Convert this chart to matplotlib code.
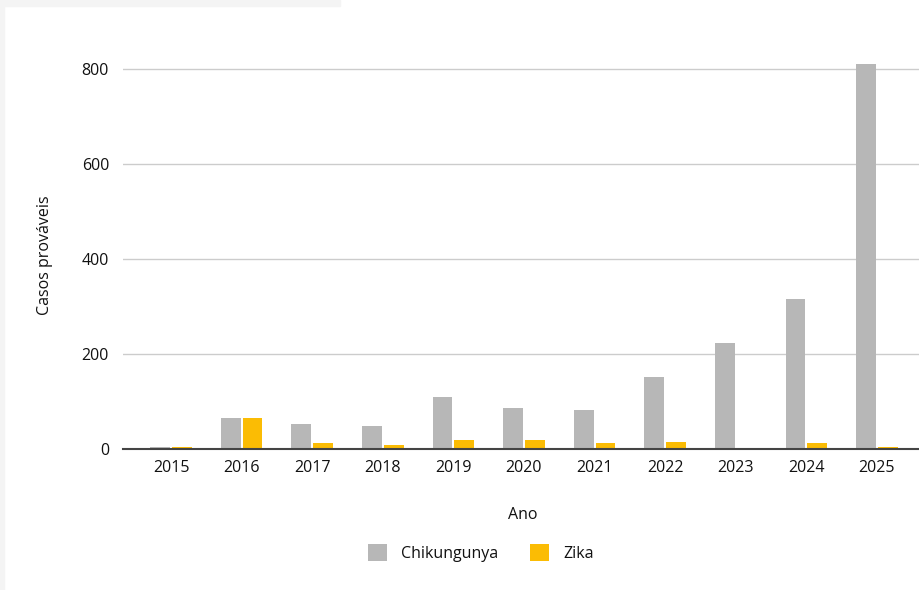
import matplotlib
matplotlib.use("Agg")
import matplotlib.pyplot as plt
import numpy as np

anos = ["2015", "2016", "2017", "2018", "2019", "2020", "2021", "2022", "2023", "2024", "2025"]
chikungunya = [4, 65, 53, 48, 110, 86, 82, 152, 224, 316, 812]
zika = [4, 65, 12, 8, 19, 19, 12, 15, 0, 12, 4]

plt.rcParams["font.family"] = ["Open Sans", "DejaVu Sans"]

fig = plt.figure(figsize=(9.2, 5.9), dpi=100)
ax = fig.add_axes([123 / 920, 1 - 449 / 590, 1 - 123 / 920, (449 - 22) / 590])

x = np.arange(len(anos))
width = 0.28
ax.bar(x - 0.155, chikungunya, width, color="#b7b7b7", label="Chikungunya", zorder=3)
ax.bar(x + 0.155, zika, width, color="#fbbc04", label="Zika", zorder=3)

ax.set_xlim(-0.68, 10.61)
ax.set_ylim(0, 900)
ax.set_yticks([0, 200, 400, 600, 800])
ax.set_xticks(x)
ax.set_xticklabels(anos)
ax.tick_params(axis="both", length=0, labelsize=11.5, colors="#111111")
ax.tick_params(axis="x", pad=8)
ax.tick_params(axis="y", pad=10)
ax.grid(axis="y", color="#cccccc", linewidth=1, zorder=0)

for s in ["top", "right", "left"]:
    ax.spines[s].set_visible(False)
ax.spines["bottom"].set_color("#444444")
ax.spines["bottom"].set_linewidth(1.5)
ax.spines["bottom"].set_zorder(4)

fig.text(523 / 920, 1 - 515 / 590, "Ano", ha="center", va="center", fontsize=11.5, color="#111111")
fig.text(45 / 920, 1 - 255 / 590, "Casos prováveis", ha="center", va="center",
         rotation=90, fontsize=11.5, color="#111111")

fig.legend(loc="center", bbox_to_anchor=(481 / 920, 1 - 553 / 590), ncol=2, frameon=False,
           fontsize=11.5, handlelength=1.2, handleheight=1.2, columnspacing=2.0, handletextpad=0.9,
           labelcolor="#111111")

# faint screenshot border on top and left
fig.patches.append(plt.Rectangle((0, 1 - 6 / 590), 340 / 920, 6 / 590, transform=fig.transFigure,
                                 color="#f4f4f4", zorder=0))
fig.patches.append(plt.Rectangle((0, 0), 4 / 920, 1, transform=fig.transFigure,
                                 color="#f4f4f4", zorder=0))

fig.savefig("out.png", dpi=100)
